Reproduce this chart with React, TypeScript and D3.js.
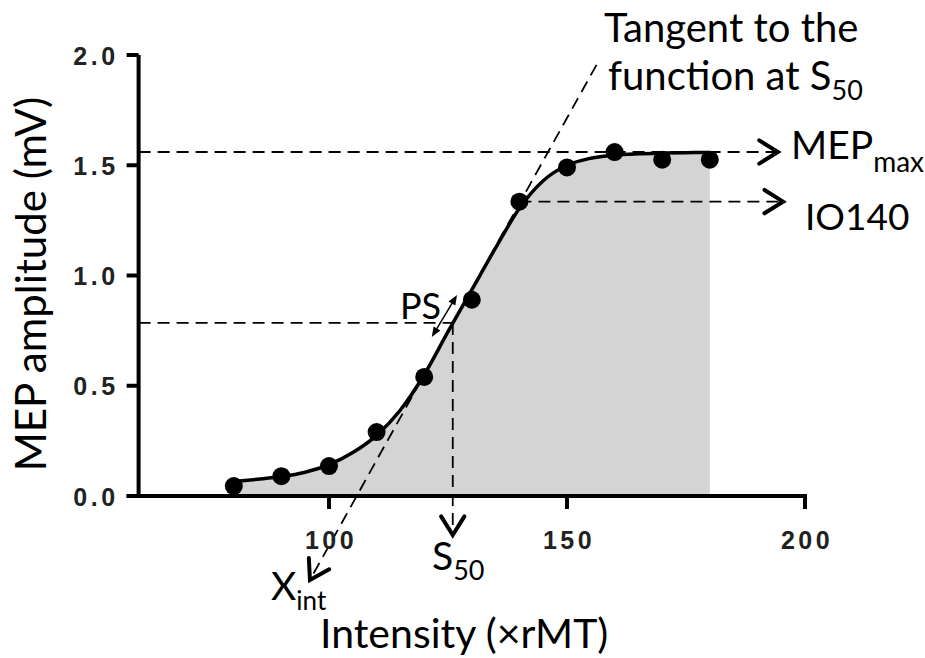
import React from "react";
import * as d3 from "d3";

// ---- data ----
const intensities = [80, 90, 100, 110, 120, 130, 140, 150, 160, 170, 180];
const mepValues = [0.045, 0.09, 0.136, 0.29, 0.54, 0.89, 1.335, 1.49, 1.56, 1.525, 1.525];

const fitX = [80, 85, 90, 95, 100, 105, 110, 115, 120, 125, 130, 135, 140, 145, 150, 155, 160, 165, 170, 175, 180];
const fitY = [0.066, 0.076, 0.088, 0.108, 0.142, 0.197, 0.275, 0.39, 0.55, 0.745, 0.935, 1.125, 1.305, 1.43, 1.5, 1.532, 1.546, 1.552, 1.555, 1.557, 1.558];

const xTicks = [100, 150, 200];
const yTicks = [0, 0.5, 1.0, 1.5, 2.0];
const xTickLabels = ["100", "150", "200"];
const yTickLabels = ["0.0", "0.5", "1.0", "1.5", "2.0"];

// annotation values (data units)
const s50 = 126;
const s50Value = 0.785;
const mepMax = 1.56;
const io140 = 1.335;
const tangentX = [156.2, 96];
const tangentY = [1.955, -0.381];
const mepMaxArrowEnd = 194.3;
const io140ArrowEnd = 195.4;
const s50ArrowEnd = -0.177;
const psArrowX = [121.6, 126.9];
const psArrowY = [0.721, 0.912];

const W = 925;
const H = 658;

const x = d3.scaleLinear().domain([60, 200]).range([138.6, 805]);
const y = d3.scaleLinear().domain([0, 2]).range([496, 55]);

const LATO = "Lato, 'Noto Sans', sans-serif";
const ARIAL = "'Liberation Sans', Arial, sans-serif";

function chevron(tx: number, ty: number, bx: number, by: number, len = 22, ang = 32) {
  const a = (ang * Math.PI) / 180;
  const r = (vx: number, vy: number, t: number) => [vx * Math.cos(t) - vy * Math.sin(t), vx * Math.sin(t) + vy * Math.cos(t)];
  const [ax, ay] = r(bx, by, a);
  const [cx, cy] = r(bx, by, -a);
  return `M${tx + ax * len},${ty + ay * len}L${tx},${ty}L${tx + cx * len},${ty + cy * len}`;
}

function triHead(tx: number, ty: number, bx: number, by: number, len = 10, half = 4) {
  const px = -by, py = bx;
  const baseX = tx + bx * len, baseY = ty + by * len;
  return `M${tx},${ty}L${baseX + px * half},${baseY + py * half}L${baseX - px * half},${baseY - py * half}Z`;
}

export default function App() {
  const pts = fitX.map((v, i) => [v, fitY[i]] as [number, number]);
  const line = d3.line<[number, number]>().x(d => x(d[0])).y(d => y(d[1])).curve(d3.curveMonotoneX);
  const area = d3.area<[number, number]>().x(d => x(d[0])).y0(y(0)).y1(d => y(d[1])).curve(d3.curveMonotoneX);

  const dash = { stroke: "#000", strokeWidth: 1.8, strokeDasharray: "12 7", fill: "none" };
  const head = { stroke: "#000", strokeWidth: 4, fill: "none", strokeLinecap: "round" as const, strokeLinejoin: "miter" as const };

  const t0x = x(tangentX[0]), t0y = y(tangentY[0]);
  const t1x = x(tangentX[1]), t1y = y(tangentY[1]);
  const tl = Math.hypot(t0x - t1x, t0y - t1y);
  const tbx = (t0x - t1x) / tl, tby = (t0y - t1y) / tl;

  const p0x = x(psArrowX[0]), p0y = y(psArrowY[0]);
  const p1x = x(psArrowX[1]), p1y = y(psArrowY[1]);
  const pl = Math.hypot(p1x - p0x, p1y - p0y);
  const pux = (p1x - p0x) / pl, puy = (p1y - p0y) / pl;

  return (
    <svg width={W} height={H} style={{ position: "absolute", left: 0, top: 0, background: "#fff" }}>
      <path d={area(pts) || ""} fill="#d4d4d4" />

      <line x1={x(60)} y1={y(mepMax)} x2={x(mepMaxArrowEnd)} y2={y(mepMax)} {...dash} />
      <line x1={x(140)} y1={y(io140)} x2={x(io140ArrowEnd)} y2={y(io140)} {...dash} />
      <line x1={x(60)} y1={y(s50Value)} x2={x(s50)} y2={y(s50Value)} {...dash} />
      <line x1={x(s50)} y1={y(s50Value)} x2={x(s50)} y2={y(s50ArrowEnd)} {...dash} />
      <line x1={t0x} y1={t0y} x2={t1x} y2={t1y} {...dash} />

      <path d={chevron(x(mepMaxArrowEnd), y(mepMax), -1, 0)} {...head} />
      <path d={chevron(x(io140ArrowEnd), y(io140), -1, 0)} {...head} />
      <path d={chevron(x(s50), y(s50ArrowEnd), 0, -1)} {...head} />
      <path d={chevron(t1x, t1y, tbx, tby)} {...head} />

      <path d={line(pts) || ""} fill="none" stroke="#000" strokeWidth={3.5} />

      {intensities.map((v, i) => (
        <circle key={i} cx={x(v)} cy={y(mepValues[i])} r={9} fill="#000" />
      ))}

      <line x1={p0x + pux * 8} y1={p0y + puy * 8} x2={p1x - pux * 8} y2={p1y - puy * 8} stroke="#000" strokeWidth={1.5} />
      <path d={triHead(p0x, p0y, pux, puy)} fill="#000" />
      <path d={triHead(p1x, p1y, -pux, -puy)} fill="#000" />

      <g stroke="#000" strokeWidth={4} fill="none">
        <line x1={x(60)} y1={y(2)} x2={x(60)} y2={y(0) + 2} />
        <line x1={x(60) - 12} y1={y(0)} x2={x(200) + 2} y2={y(0)} />
        {yTicks.map((t, i) => (
          <line key={i} x1={x(60) - 12} y1={y(t)} x2={x(60)} y2={y(t)} />
        ))}
        {xTicks.map((t, i) => (
          <line key={i} x1={x(t)} y1={y(0)} x2={x(t)} y2={y(0) + 13} />
        ))}
      </g>
      <g fontFamily={ARIAL} fontWeight="bold" fontSize={25} fill="#222" letterSpacing={3.5}>
        {yTicks.map((t, i) => (
          <text key={i} x={x(60) - 20} y={y(t) + 9.5} textAnchor="end">{yTickLabels[i]}</text>
        ))}
        {xTicks.map((t, i) => (
          <text key={i} x={x(t) + 2} y={549} textAnchor="middle">{xTickLabels[i]}</text>
        ))}
      </g>

      <text transform="translate(46,284) rotate(-90)" textAnchor="middle" fontFamily={LATO} fontSize={42} fill="#000">MEP amplitude (mV)</text>
      <text x={320} y={648} fontFamily={LATO} fontSize={41} fill="#000">Intensity (×rMT)</text>

      <g fontFamily={LATO} fill="#000">
        <text x={604} y={42} fontSize={40}>Tangent to the</text>
        <text x={608} y={90} fontSize={40}>function at S<tspan fontSize={27} dy={10}>50</tspan></text>
        <text x={791} y={159} fontSize={39}>MEP<tspan fontSize={28} dy={13}>max</tspan></text>
        <text x={805} y={230} fontSize={37}>IO140</text>
        <text x={400} y={319} fontSize={36}>PS</text>
        <text x={432} y={570} fontSize={39}>S<tspan fontSize={27} dy={10}>50</tspan></text>
        <text x={271} y={600} fontSize={39}>X<tspan fontSize={26} dy={10}>int</tspan></text>
      </g>
    </svg>
  );
}
